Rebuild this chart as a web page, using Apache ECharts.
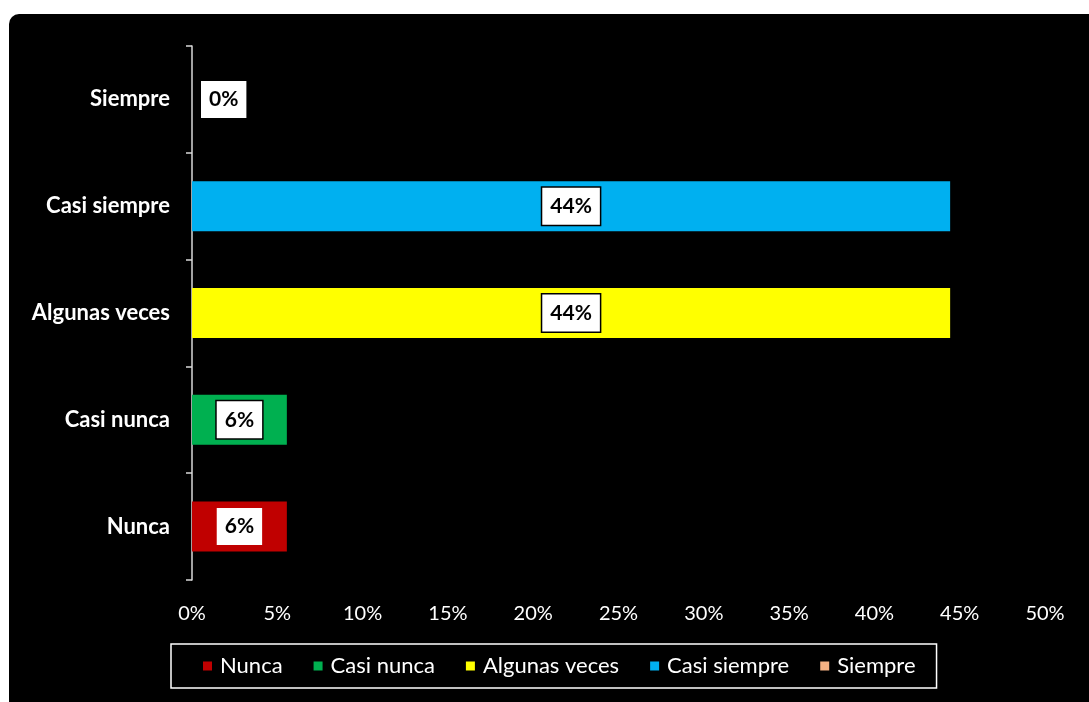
<!DOCTYPE html>
<html>
<head>
<meta charset="utf-8">
<script src="https://cdn.jsdelivr.net/npm/echarts@6/dist/echarts.min.js"></script>
<style>
  html, body { margin: 0; padding: 0; background: #fff; }
  #chart { width: 1089px; height: 702px; }
</style>
</head>
<body>
<div id="chart"></div>
<script>
/**
 * data
 */
var categories = ['Nunca', 'Casi nunca', 'Algunas veces', 'Casi siempre', 'Siempre'];
var values = [5.56, 5.56, 44.44, 44.44, 0];
var colors = ['#C00000', '#00B050', '#FFFF00', '#00B0F0', '#F4B183'];
var xTicks = { min: 0, max: 50, step: 5 };

var chart = echarts.init(document.getElementById('chart'));

// one series per category, stacked, so every bar gets its own colour and legend entry
var series = [];
for (var i = 0; i < categories.length; i++) {
    var data = [];
    for (var j = 0; j < categories.length; j++) {
        data.push(j == i ? values[i] : '-');
    }
    series.push({
        name: categories[i],
        type: 'bar',
        stack: 'total',
        barWidth: 50,
        itemStyle: { color: colors[i] },
        label: {
            show: true,
            position: values[i] == 0 ? 'right' : 'inside',
            distance: 9,
            formatter: function (p) { return Math.round(p.value) + '%'; },
            backgroundColor: '#fff',
            borderColor: '#000',
            borderWidth: i == 0 || values[i] == 0 ? 0 : 1.5,
            padding: [9, 8, 7, 8],
            color: '#000',
            fontFamily: 'Lato',
            fontWeight: 'bold',
            fontSize: 21
        },
        data: data
    });
}

var option = {
    animation: false,
    backgroundColor: 'transparent',
    graphic: [{
        type: 'rect',
        z: -10,
        silent: true,
        shape: { x: 9, y: 14, width: 1110, height: 720, r: 10 },
        style: { fill: '#000' }
    }],
    legend: {
        data: categories,
        left: 171,
        top: 644,
        padding: [11, 21, 11, 32],
        borderColor: '#fff',
        borderWidth: 1.5,
        itemGap: 31,
        itemWidth: 9,
        itemHeight: 9,
        icon: 'rect',
        textStyle: { color: '#fff', fontFamily: 'Lato', fontSize: 22, padding: [0, 0, 0, 3] }
    },
    grid: {
        left: 192,
        right: 44,
        top: 46,
        bottom: 122
    },
    xAxis: {
        type: 'value',
        min: xTicks.min,
        max: xTicks.max,
        interval: xTicks.step,
        axisLine: { show: false },
        axisTick: { show: false },
        splitLine: { show: false },
        axisLabel: {
            color: '#fff',
            fontFamily: 'Lato',
            fontSize: 20,
            margin: 24,
            formatter: '{value}%'
        }
    },
    yAxis: {
        type: 'category',
        data: categories,
        axisLine: { show: true, lineStyle: { color: '#d9d9d9', width: 1.5 } },
        axisTick: { show: true, length: 6, lineStyle: { color: '#d9d9d9', width: 1.5 } },
        axisLabel: {
            color: '#fff',
            fontFamily: 'Lato',
            fontWeight: 'bold',
            fontSize: 22,
            margin: 22
        }
    },
    series: series
};
chart.setOption(option);
</script>
</body>
</html>
